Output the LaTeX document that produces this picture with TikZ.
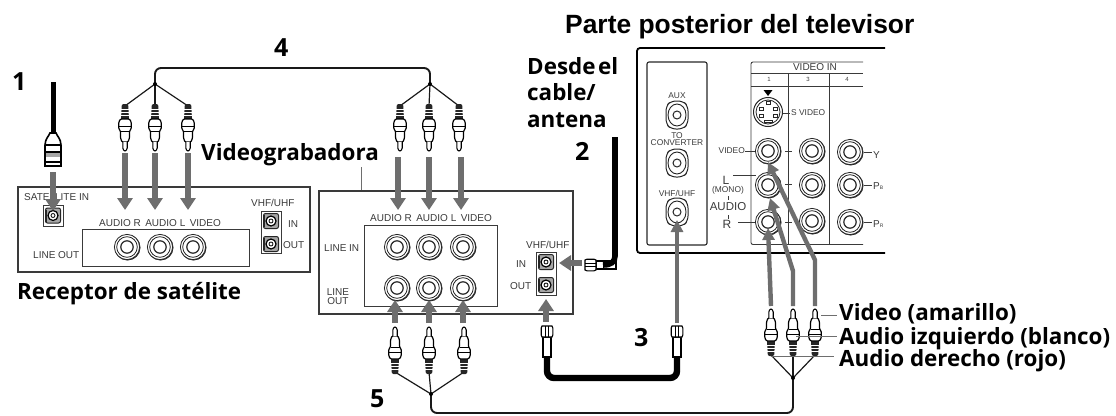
\documentclass[tikz,border=0pt]{standalone}
\usepackage{fontspec}
\usetikzlibrary{arrows.meta}
\setmainfont{Liberation Sans}
\newfontfamily\lab{Open Sans}
\newfontfamily\titlef{Liberation Sans}
\definecolor{arrowgray}{HTML}{6E6E6E}
\definecolor{linegray}{HTML}{3A3A3A}
\newcommand{\sm}[1]{\fontsize{#1}{#1}\selectfont}
\tikzset{
  bigtxt/.style={anchor=base west,inner sep=0pt,font=\lab\bfseries\fontsize{22.4}{22.4}\selectfont,text=black},
  numtxt/.style={anchor=base west,inner sep=0pt,font=\lab\bfseries\fontsize{25}{25}\selectfont,text=black},
  tag/.style={inner sep=0pt,font=\sm{10},text=linegray},
  tvtag/.style={inner sep=0pt,font=\sm{8.4},text=linegray},
  panelbox/.style={draw=linegray,line width=1.3pt,fill=white},
  innerbox/.style={draw=linegray,line width=1pt},
  leader/.style={draw=arrowgray,line width=0.9pt},
  thin leader/.style={draw=linegray,line width=0.7pt},
  hookup/.style={draw=arrowgray,line width=5.5pt,-{Triangle[width=15pt,length=12pt]}},
  bentup/.style={draw=arrowgray,line width=4.4pt,-{Triangle[width=12pt,length=12pt]},line join=miter},
  wire/.style={draw=black!90,line width=1.2pt},
  cable/.style={draw=black!90,line width=1.9pt,rounded corners=6pt},
  coax/.style={draw=black,line width=6.4pt,rounded corners=7pt},
  jack/.pic={
    \fill[black!85] (0.5,0.5) circle (13);
    \draw[line width=0.8pt,fill=white,draw=black!85] (0,0) circle (12.6);
    \draw[line width=0.8pt,draw=black!85] (0,0) circle (10.3);
    \draw[line width=1.2pt,draw=black!85] (0,0) circle (6.2);
  },
  fjack/.pic={
    \draw[line width=1pt,black!85,fill=black!35,rounded corners=2pt] (-7.5,-7.5) rectangle (7.5,7.5);
    \draw[line width=1.6pt,black!85] (-7,6) -- (-7,-6);
    \draw[line width=1.2pt,black,fill=white] (0,0) circle (5);
    \draw[line width=0.8pt,black] (0,0) circle (2);
  },
  tvjack/.pic={
    \draw[line width=1pt,black!85,fill=white,rounded corners=5pt] (-11,-9) -- (-6,-14) -- (6,-14) -- (11,-9) -- (11,9) -- (6,14) -- (-6,14) -- (-11,9) -- cycle;
    \draw[line width=0.9pt,black!85] (0,0) ellipse (9 and 11);
    \draw[line width=1pt,black!85] (0,0) circle (4);
  },
  rca/.pic={
    \fill[black!85] (-3.2,0) -- (-1.5,-1) -- (1.5,-1) -- (3.2,0) -- (4,14) -- (-4,14) -- cycle;
    \foreach \yy in {4,7,10} \draw[white,line width=0.7pt] (-3.6,\yy) -- (3.6,\yy);
    \draw[line width=1.2pt,black,fill=white,rounded corners=1pt] (-6.2,17) -- (-4.5,14) -- (4.5,14) -- (6.2,17) -- (6.2,24) -- (4.5,26) -- (4.5,33) -- (3,37) -- (-3,37) -- (-4.5,33) -- (-4.5,26) -- (-6.2,24) -- cycle;
    \draw[line width=0.9pt,black] (-6,21) -- (6,21) (-4.5,26) -- (4.5,26);
    \draw[line width=1.1pt,black,fill=white,rounded corners=1pt] (-2.2,37) -- (-2.2,44) -- (0,46.5) -- (2.2,44) -- (2.2,37);
  },
  fplug/.pic={
    \draw[line width=1.1pt,black,fill=white] (-4,11) rectangle (4,31);
    \draw[line width=1.1pt,black,fill=white] (-5,0) -- (5,0) -- (5.8,2) -- (5.8,9) -- (5,11) -- (-5,11) -- (-5.8,9) -- (-5.8,2) -- cycle;
    \draw[line width=0.8pt,black] (-1.8,0) -- (-1.8,11) (1.8,0) -- (1.8,11);
  },
  dishplug/.pic={
    \draw[line width=1.6pt,black,fill=white] (-8,12) .. controls (-8,6) and (-4,3) .. (-3,0) -- (3,0) .. controls (4,3) and (8,6) .. (8,12) -- (8,33) -- (-8,33) -- cycle;
    \draw[line width=1.2pt,black] (-8,12) -- (8,12) (-8,19) -- (8,19);
    \fill[black!35] (-7,20) rectangle (7,24);
    \draw[line width=2pt,black] (-8,29) -- (8,29);
  }
}
\begin{document}
\begin{tikzpicture}[x=1pt,y=-1pt]
\useasboundingbox (0,0) rectangle (1116,415);
% --- satellite receiver
\node[panelbox,minimum width=292pt,minimum height=85pt,inner sep=0pt] (sat) at (164,229.5) {};
\draw[innerbox] (82,229) rectangle (249,266);
\node[tag,anchor=west] (satin) at (24,197) {SATELLITE IN};
\node[tag,anchor=west] (satrow) at (99,223) {AUDIO R\, AUDIO L\, VIDEO};
\node[tag,anchor=west] (satout) at (33,255) {LINE OUT};
\node[tag,anchor=west] (satvhf) at (251,203) {VHF/UHF};
\node[tag,anchor=west] (satiin) at (288,224) {IN};
\node[tag,anchor=west] (satiout) at (283,245) {OUT};
\draw[innerbox,line width=0.8pt] (43,205) rectangle (63,226);
\draw[innerbox,line width=0.8pt] (261,211) rectangle (281,253);
\pic at (53,215.5) {fjack};
\pic at (271,221) {fjack};
\pic at (271,244) {fjack};
\pic at (127,247) {jack};
\pic at (160,247) {jack};
\pic at (193,247) {jack};
% --- VCR
\node[panelbox,minimum width=254pt,minimum height=123pt,inner sep=0pt] (vcr) at (446,252.5) {};
\draw[innerbox] (364,225) rectangle (497,306);
\draw[innerbox,line width=0.8pt] (536,252) rectangle (556,295);
\node[tag,anchor=west] (vrow) at (370,218) {AUDIO R\, AUDIO L\, VIDEO};
\node[tag,anchor=west] (vli) at (324,248) {LINE IN};
\node[tag,align=center] (vlo) at (338,297) {LINE\\[-1pt]OUT};
\node[tag,anchor=west] (vvhf) at (526,245) {VHF/UHF};
\node[tag,anchor=west] (vin) at (516,264) {IN};
\node[tag,anchor=west] (vout) at (510,286) {OUT};
\foreach \xx in {397,429,463} {\pic at (\xx,247) {jack}; \pic at (\xx,288) {jack};}
\pic at (546,262) {fjack};
\pic at (546,285) {fjack};
\node[bigtxt] (vlabel) at (201,160) {Videograbadora};
\coordinate (vlead) at (361,167);
\draw[leader] (vlead) -- (vlead |- vcr.north);
% --- TV
\draw[draw=black,line width=1.8pt,rounded corners=3pt] (885,48) -- (637,48) -- (637,253) -- (885,253);
\draw[draw=black!85,line width=1.1pt,rounded corners=2pt] (647,62) rectangle (707,245);
\draw[draw=linegray,line width=0.9pt,rounded corners=2pt] (863,62) -- (751,62) -- (751,244.5) -- (863,244.5);
\draw[draw=linegray,line width=0.9pt] (751,73) -- (863,73) (751,86) -- (863,86) (788,73) -- (788,244.5) (829,73) -- (829,244.5);
\node[tag] (hvin) at (815,67.5) {VIDEO IN};
\node[tvtag,font=\sm{6}] (h1) at (769,79.5) {1};
\node[tvtag,font=\sm{6}] (h3) at (808,79.5) {3};
\node[tvtag,font=\sm{6}] (h4) at (847,79.5) {4};
\fill[black] (763.5,90) -- (772.5,90) -- (768,96) -- cycle;
\draw[line width=1pt,black!85,fill=white] (768,112) circle (14.5);
\draw[line width=0.8pt,black!85] (768,112) circle (12);
\foreach \pp/\qq in {766/101,759/107,773/107,759/114,773/114} \draw[line width=0.6pt,black!85] (\pp,\qq) rectangle +(4,3);
\draw[line width=0.8pt,black!85] (764,120) rectangle +(8,2);
\node[tvtag,anchor=west] (svid) at (791,113) {S VIDEO};
\draw[thin leader] (783,113) -- (790,113);
\foreach \xx/\yy in {768/151,768/185,768/222,812/151,812/185,812/221,850/152,850/185,850/222} \pic at (\xx,\yy) {jack};
\foreach \yy in {151,184,222} \draw[thin leader] (785,\yy) -- (792,\yy);
\draw[thin leader] (745,151) -- (755,151) (733,175) -- (756,175) (738,222) -- (755,222) (728,196) -- (728,200) (728,215) -- (728,219);
\draw[thin leader] (864,152) -- (872,152) (864,185) -- (872,185) (864,222) -- (872,222);
\node[tvtag,anchor=east] (tvvid) at (745,151) {VIDEO};
\node[tvtag,font=\sm{12}] (tvl) at (726,180) {L};
\node[tvtag] (tvm) at (728,190) {(MONO)};
\node[tvtag,font=\sm{11.5}] (tva) at (728,207) {AUDIO};
\node[tvtag,font=\sm{12}] (tvr) at (727,224) {R};
\node[tag,anchor=west] (tvy) at (873,155) {Y};
\node[tag,anchor=west] (tvpb) at (873,186) {P{\sm{5}B}};
\node[tag,anchor=west] (tvpr) at (873,224) {P{\sm{5}R}};
\node[tvtag] (aux) at (677,96) {AUX};
\node[tvtag,align=center] (toc) at (677,139) {TO\\[-1.5pt]CONVERTER};
\node[tvtag] (tvvhf) at (677,193) {VHF/UHF};
\pic at (677,115) {tvjack};
\pic at (677,163) {tvjack};
\pic at (677,212) {tvjack};
% --- cable 1
\coordinate (c1top) at (53,82);
\coordinate (c1end) at (53,134);
\draw[draw=black,line width=5pt] (c1top) -- (c1end);
\pic at (53,133) {dishplug};
\coordinate (a1s) at (53,172);
\coordinate (a1e) at (53,211);
\draw[hookup] (a1s) -- (a1e);
% --- cable 4
\coordinate (j4a) at (155,84);
\coordinate (j4b) at (430,84);
\draw[cable] (j4a) -- (155,68) -- (430,68) -- (j4b);
\foreach \xx in {125,155,188} {\draw[wire] (j4a) -- (\xx,106); \pic at (\xx,105) {rca};}
\foreach \xx in {400,429,459} {\draw[wire] (j4b) -- (\xx,106); \pic at (\xx,105) {rca};}
\fill (j4a) circle (2); \fill (j4b) circle (2);
\foreach \xx in {125,155,188} \draw[hookup] (\xx,153) -- (\xx,210);
\foreach \xx in {398,429,461} \draw[hookup] (\xx,157) -- (\xx,210);
% --- cable 5 (VCR to TV)
\coordinate (j5a) at (431,394);
\coordinate (j5b) at (793,378);
\draw[cable] (j5a) -- (431,413) -- (793,413) -- (j5b);
\foreach \xx in {395,429,464} {\draw[wire] (j5a) -- (\xx,372); \pic[rotate=180] at (\xx,373) {rca};}
\foreach \xx in {771,793,815} {\draw[wire] (j5b) -- (\xx,355); \pic[rotate=180] at (\xx,355) {rca};}
\fill (j5a) circle (2); \fill (j5b) circle (2);
\foreach \xx in {395,429,463} \draw[hookup] (\xx,323) -- (\xx,300);
% --- TV arrows
\coordinate (ta1) at (771,306); \coordinate (tb1) at (768,228);
\coordinate (ta2) at (793,306); \coordinate (tm2) at (793,271); \coordinate (tb2) at (770,198);
\coordinate (ta3) at (815,306); \coordinate (tm3) at (815,260); \coordinate (tb3) at (768,162);
\draw[bentup] (ta1) -- (tb1);
\draw[bentup] (ta2) -- (tm2) -- (tb2);
\draw[bentup] (ta3) -- (tm3) -- (tb3);
% --- cable 3
\coordinate (c3a) at (547,357);
\coordinate (c3b) at (677,357);
\draw[coax] (c3a) -- (547,378) -- (677,378) -- (c3b);
\pic at (547,326) {fplug};
\pic at (677,326) {fplug};
\draw[hookup] (546,322) -- (546,299);
\draw[bentup] (677,323) -- (677,220);
% --- cable 2
\coordinate (c2top) at (615,137);
\coordinate (c2end) at (603,265);
\pic[rotate=90] at (585,265) {fplug};
\draw[draw=black,line width=5.6pt] (c2top) -- (615,256) .. controls (615,262) and (611,265) .. (c2end);
\draw[hookup] (582,263) -- (559,263);
% --- labels
\node[bigtxt] (title) at (565,33) {\titlef\bfseries\fontsize{26.4}{26.4}\selectfont Parte posterior del televisor};
\node[bigtxt] (dl1) at (527,74) {Desde\hspace{2.5pt}el};
\node[bigtxt] (dl2) at (527,100) {cable/};
\node[bigtxt] (dl3) at (527,127) {antena};
\node[bigtxt] (recv) at (17,299) {Receptor de satélite};
\node[numtxt] (n1) at (12,90) {1};
\node[numtxt] (n4) at (274,56) {4};
\node[numtxt] (n2) at (575,160) {2};
\node[numtxt] (n3) at (634,346) {3};
\node[numtxt] (n5) at (370,407) {5};
\node[bigtxt] (vy) at (839,320) {Video (amarillo)};
\node[bigtxt] (al) at (839,344) {Audio izquierdo (blanco)};
\node[bigtxt] (ar) at (839,366) {Audio derecho (rojo)};
\coordinate (l1) at (821,315); \coordinate (l2) at (796,336); \coordinate (l3) at (771,356);
\draw[leader] (l1) -- (837,315);
\draw[leader] (l2) -- (837,336);
\draw[leader] (l3) -- (834,356);
\end{tikzpicture}
\end{document}
